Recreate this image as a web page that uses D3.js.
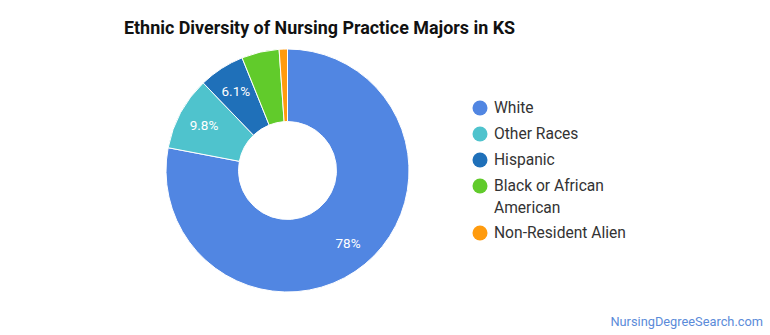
<!DOCTYPE html>
<html><head><meta charset="utf-8">
<script src="https://cdn.jsdelivr.net/npm/d3@7"></script>
<style>body{margin:0;background:#fff;} svg{display:block;font-family:Roboto,"Open Sans",sans-serif;}</style>
</head><body>
<svg id="c" width="770" height="335"></svg>
<script>
const categories = ["White", "Other Races", "Hispanic", "Black or African American", "Non-Resident Alien"];
const values = [78.0, 9.8, 6.1, 5.0, 1.1];
const labels = ["78%", "9.8%", "6.1%", "", ""];
const colors = ["#5186e2", "#4fc3cd", "#1f70b9", "#61cb2b", "#ff9b0e"];
const legendLines = [["White"], ["Other Races"], ["Hispanic"], ["Black or African", "American"], ["Non-Resident Alien"]];

const svg = d3.select("#c");
svg.append("text").attr("x", 124).attr("y", 34).attr("font-size", 17.9).attr("font-weight", "bold")
  .attr("fill", "#111").text("Ethnic Diversity of Nursing Practice Majors in KS");

const cx = 287.5, cy = 170.5, rOut = 121.5, rIn = 49;
const pie = d3.pie().sort(null).value(d => d)(values);
const arc = d3.arc().innerRadius(rIn).outerRadius(rOut);
const labelArc = d3.arc().innerRadius(95).outerRadius(95);
const g = svg.append("g").attr("transform", `translate(${cx},${cy})`);
g.selectAll("path").data(pie).join("path").attr("d", arc)
  .attr("fill", (d, i) => colors[i]).attr("stroke", "#fff").attr("stroke-width", 1);
g.selectAll("text").data(pie).join("text")
  .attr("transform", d => `translate(${labelArc.centroid(d)})`)
  .attr("text-anchor", "middle").attr("dy", "0.35em").attr("font-size", 13.5).attr("fill", "#fff")
  .text((d, i) => labels[i]);

const ly = [108, 134, 160, 186, 233];
const lg = svg.append("g");
categories.forEach((c, i) => {
  lg.append("circle").attr("cx", 480).attr("cy", ly[i]).attr("r", 7.5).attr("fill", colors[i]);
  legendLines[i].forEach((t, j) => {
    lg.append("text").attr("x", 494).attr("y", ly[i] + j * 21.5).attr("dy", "0.35em")
      .attr("font-size", 15.6).attr("fill", "#333").text(t);
  });
});

svg.append("text").attr("x", 763).attr("y", 326).attr("text-anchor", "end").attr("font-size", 12.8)
  .attr("fill", "#5b8bd9").text("NursingDegreeSearch.com");
</script>
</body></html>
